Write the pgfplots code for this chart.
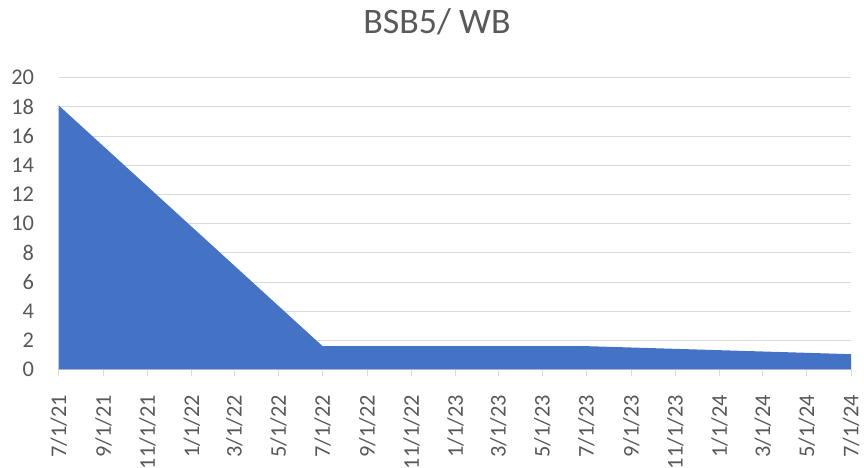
\documentclass[border=0pt]{standalone}
\usepackage{pgfplots}
\pgfplotsset{compat=1.18}
\usepackage{fontspec}
\setmainfont{Carlito}
\definecolor{areablue}{HTML}{4472C4}
\definecolor{gridgray}{HTML}{D9D9D9}
\definecolor{labelgray}{HTML}{595959}
\begin{document}
\begin{tikzpicture}[x=1bp,y=1bp]
\useasboundingbox (0,0) rectangle (864,468);
\begin{axis}[
  at={(58.7bp,98.5bp)}, anchor=south west,
  scale only axis, width=792.3bp, height=291.8bp,
  xmin=0, xmax=1096, ymin=0, ymax=20,
  axis x line*=bottom, axis y line*=left,
  y axis line style={draw=none},
  x axis line style={gridgray, line width=1bp, -},
  ytick={0,2,...,20},
  ymajorgrids, grid style={gridgray, line width=0.75bp},
  xtick={0,62,123,184,243,304,365,427,488,549,608,669,730,792,853,914,974,1035,1096},
  xticklabels={7/1/21,9/1/21,11/1/21,1/1/22,3/1/22,5/1/22,7/1/22,9/1/22,11/1/22,1/1/23,3/1/23,5/1/23,7/1/23,9/1/23,11/1/23,1/1/24,3/1/24,5/1/24,7/1/24},
  tick align=outside, major tick length=7bp,
  xtick style={gridgray, line width=1bp},
  ytick style={draw=none},
  tick label style={font=\fontsize{22.5}{27}\selectfont, text=labelgray},
  /pgf/number format/assume math mode=true,
  xticklabel style={yshift=-18.5bp, rotate=90, anchor=east, inner sep=0pt},
  yticklabel style={anchor=east, inner sep=0pt, xshift=-17.5bp},
]
\addplot[fill=areablue, draw=none] coordinates {(0,18.1) (365,1.6) (730,1.6) (1096,1.05)} \closedcycle;
\end{axis}
\node[font=\fontsize{36}{42}\selectfont, text=labelgray, anchor=base] at (437,434) {BSB5/ WB};
\end{tikzpicture}
\end{document}
